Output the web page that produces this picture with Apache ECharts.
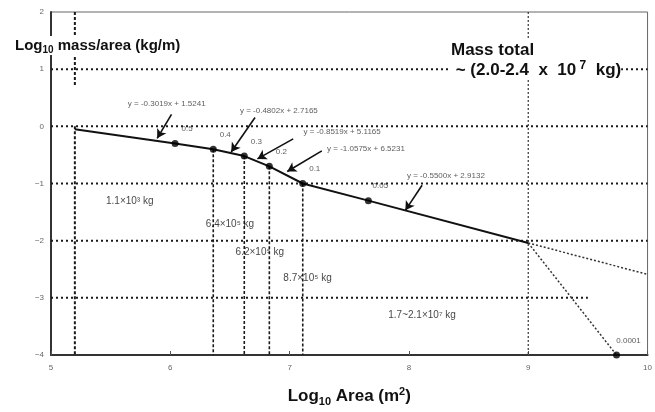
<!DOCTYPE html>
<html>
<head>
<meta charset="utf-8">
<script src="https://cdn.jsdelivr.net/npm/echarts@6/dist/echarts.min.js"></script>
<style>
  html, body { margin: 0; padding: 0; background: #fff; }
  #chart { width: 655px; height: 412px; }
</style>
</head>
<body>
<div id="chart"></div>
<script>
// 折線：log10 面積 vs log10 單位面積質量
const lineArea = [5.2, 6.04, 6.36, 6.62, 6.83, 7.11, 7.66, 9.0];
const lineMass = [-0.05, -0.30, -0.40, -0.52, -0.70, -1.00, -1.30, -2.04];

// 標記點
const dotArea = [6.04, 6.36, 6.62, 6.83, 7.11, 7.66, 9.74];
const dotMass = [-0.30, -0.40, -0.52, -0.70, -1.00, -1.30, -4.0];
const dotLabels = ['0.5', '0.4', '0.3', '0.2', '0.1', '0.05', '0.0001'];

// 虛線延伸
const extArea = [9.0, 10.0];
const extMass = [-2.04, -2.59];
const dropArea = [9.0, 9.74];
const dropMass = [-2.04, -4.0];

// 格線
const hGridLevels = [1, 0, -1, -2];
const hGridPartial = { level: -3, end: 9.5 };
const vGuideFull = [9.0];
const vGuideLeft = 5.2;
const vDropArea = [6.36, 6.62, 6.83, 7.11];
const vDropMass = [-0.40, -0.52, -0.70, -1.00];

// 回歸式
const eqText = [
  'y = -0.3019x + 1.5241',
  'y = -0.4802x + 2.7165',
  'y = -0.8519x + 5.1165',
  'y = -1.0575x + 6.5231',
  'y = -0.5500x + 2.9132'
];
const eqArea = [5.97, 6.91, 7.44, 7.64, 8.31];
const eqMass = [0.40, 0.28, -0.10, -0.40, -0.86];
const arrowFrom = [[6.01, 0.21], [6.71, 0.155], [7.03, -0.22], [7.27, -0.43], [8.11, -1.03]];
const arrowTo = [[5.89, -0.21], [6.51, -0.45], [6.73, -0.57], [6.98, -0.79], [7.97, -1.47]];

// 各段質量
const massText = ['1.1×10³ kg', '6.4×10⁵ kg', '6.2×10⁵ kg', '8.7×10⁵ kg', '1.7~2.1×10⁷ kg'];
const massArea = [5.66, 6.50, 6.75, 7.15, 8.11];
const massLog = [-1.31, -1.71, -2.21, -2.66, -3.31];

const xTicks = [5, 6, 7, 8, 9, 10];
const yTicks = [-4, -3, -2, -1, 0, 1, 2];

const chart = echarts.init(document.getElementById('chart'));

const dotted = { color: '#1a1a1a', width: 2, type: [2, 3] };
const thinDash = { color: '#333', width: 1.5, type: [2, 2] };

const seg = (x1, y1, x2, y2, style) => ({
  type: 'line',
  data: [[x1, y1], [x2, y2]],
  symbol: 'none',
  silent: true,
  lineStyle: style,
  z: 1
});

const series = [];
hGridLevels.forEach(v => series.push(seg(5, v, 10, v, dotted)));
series.push(seg(5, hGridPartial.level, hGridPartial.end, hGridPartial.level, dotted));
vGuideFull.forEach(v => series.push(seg(v, 2, v, -4, { color: '#333', width: 1.2, type: [2, 2] })));
series.push(seg(vGuideLeft, 2, vGuideLeft, 0.72, { color: '#1a1a1a', width: 2, type: [3, 2] }));
series.push(seg(vGuideLeft, 0, vGuideLeft, -4, { color: '#1a1a1a', width: 2, type: [3, 2] }));
vDropArea.forEach((x, i) => series.push(seg(x, vDropMass[i], x, -4, { color: '#1a1a1a', width: 1.6, type: [3, 2] })));

// 虛線延伸
series.push({
  type: 'line', symbol: 'none', silent: true, z: 3,
  data: extArea.map((x, i) => [x, extMass[i]]),
  lineStyle: thinDash
});
series.push({
  type: 'line', symbol: 'none', silent: true, z: 3,
  data: dropArea.map((x, i) => [x, dropMass[i]]),
  lineStyle: thinDash
});

// 主線
series.push({
  type: 'line', symbol: 'none', z: 4,
  data: lineArea.map((x, i) => [x, lineMass[i]]),
  lineStyle: { color: '#111', width: 2 },
  markLine: {
    silent: true,
    symbol: ['none', 'arrow'],
    symbolSize: [8, 9],
    label: { show: false },
    lineStyle: { color: '#111', width: 1.6, type: 'solid' },
    data: arrowFrom.map((f, i) => [{ coord: f }, { coord: arrowTo[i] }])
  }
});

// 標記點
series.push({
  type: 'scatter', z: 5,
  symbolSize: 7,
  itemStyle: { color: '#000' },
  data: dotArea.map((x, i) => [x, dotMass[i]]),
  label: {
    show: true,
    position: 'top',
    offset: [12, -2],
    fontSize: 8,
    fontFamily: 'Liberation Sans',
    color: '#333',
    formatter: p => dotLabels[p.dataIndex]
  }
});

// 回歸式文字
series.push({
  type: 'scatter', z: 6, symbolSize: 0, silent: true,
  data: eqArea.map((x, i) => [x, eqMass[i]]),
  label: {
    show: true, position: 'inside',
    fontSize: 8, fontFamily: 'Liberation Sans', color: '#333',
    formatter: p => eqText[p.dataIndex]
  }
});

// 質量文字
series.push({
  type: 'scatter', z: 6, symbolSize: 0, silent: true,
  data: massArea.map((x, i) => [x, massLog[i]]),
  label: {
    show: true, position: 'inside',
    fontSize: 10, fontFamily: 'Liberation Sans', color: '#111',
    formatter: p => massText[p.dataIndex]
  }
});

const option = {
  animation: false,
  backgroundColor: '#fff',
  grid: {
    left: 51, right: 7, top: 12, bottom: 53,
    show: true, borderColor: '#666', borderWidth: 1
  },
  xAxis: {
    type: 'value', min: xTicks[0], max: xTicks[xTicks.length - 1], interval: 1,
    splitLine: { show: false },
    axisLine: { show: true, onZero: false, lineStyle: { color: '#333', width: 2 } },
    axisTick: { show: true, inside: true, length: 4, lineStyle: { color: '#555' } },
    axisLabel: { fontSize: 8, color: '#666', margin: 9, fontFamily: 'Liberation Sans' },
    name: '{b|Log}{s|10}{b| Area (m}{p|2}{b|)}',
    nameLocation: 'middle',
    nameGap: 31,
    nameTextStyle: {
      rich: {
        b: { fontSize: 17, fontWeight: 'bold', fontFamily: 'Liberation Sans', color: '#111' },
        s: { fontSize: 11, fontWeight: 'bold', fontFamily: 'Liberation Sans', color: '#111', padding: [10, 0, 0, 0] },
        p: { fontSize: 11, fontWeight: 'bold', fontFamily: 'Liberation Sans', color: '#111', padding: [0, 0, 9, 0] }
      }
    }
  },
  yAxis: {
    type: 'value', min: yTicks[0], max: yTicks[yTicks.length - 1], interval: 1,
    splitLine: { show: false },
    axisLine: { show: true, onZero: false, lineStyle: { color: '#333', width: 2 } },
    axisTick: { show: false },
    axisLabel: {
      fontSize: 8, color: '#666', margin: 7, fontFamily: 'Liberation Sans',
      formatter: v => (v < 0 ? '\u2212' + Math.abs(v) : String(v))
    }
  },
  graphic: [
    {
      type: 'text', left: 15, top: 36, z: 100,
      style: {
        text: '{b|Log}{s|10}{b| mass/area (kg/m)}',
        backgroundColor: '#fff',
        rich: {
          b: { fontSize: 15, fontWeight: 'bold', fontFamily: 'Liberation Sans', fill: '#111' },
          s: { fontSize: 10, fontWeight: 'bold', fontFamily: 'Liberation Sans', fill: '#111', padding: [9, 0, 0, 0] }
        }
      }
    },
    {
      type: 'text', left: 451, top: 40, z: 100,
      style: {
        text: '{b|Mass total}\n{b| ~ (2.0-2.4  x  10}{p| 7}{b|  kg)}',
        backgroundColor: '#fff',
        rich: {
          b: { fontSize: 17, fontWeight: 'bold', fontFamily: 'Liberation Sans', fill: '#111', lineHeight: 20 },
          p: { fontSize: 12, fontWeight: 'bold', fontFamily: 'Liberation Sans', fill: '#111', padding: [0, 0, 8, 0] }
        }
      }
    }
  ],
  series: series
};

chart.setOption(option);
window.addEventListener('resize', () => chart.resize());
</script>
</body>
</html>
